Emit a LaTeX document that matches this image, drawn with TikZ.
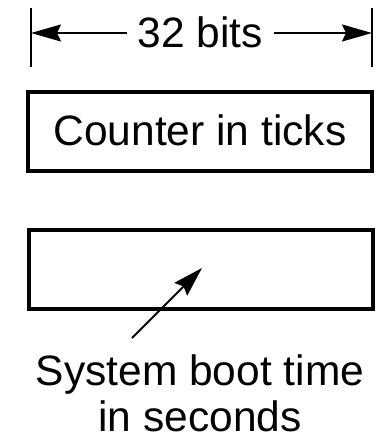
\documentclass[tikz,border=0pt]{standalone}
\usepackage{fontspec}
\setmainfont{Liberation Sans}
\usetikzlibrary{arrows.meta}
\begin{document}
\begin{tikzpicture}[x=1pt,y=-1pt,
  every node/.style={font=\fontsize{42.5}{46}\selectfont, inner sep=0pt},
  field/.style={draw, line width=4pt, minimum width=344pt, minimum height=79pt},
  bar/.style={line width=1.8pt},
  dimarrow/.style={line width=1.8pt, -{Stealth[length=30pt,width=17pt,inset=4pt]}},
  pointer/.style={line width=1.8pt, -{Stealth[length=30pt,width=18pt,inset=4pt]}}]
  \useasboundingbox (0,0) rectangle (380,437);

  % word width dimension
  \coordinate (ltop) at (31,8);  \coordinate (lbot) at (31,67);
  \coordinate (rtop) at (372,8); \coordinate (rbot) at (372,67);
  \draw[bar] (ltop) -- (lbot);
  \draw[bar] (rtop) -- (rbot);
  \node[anchor=base, inner xsep=11pt] (bits) at (200.5,47) {32 bits};
  \coordinate (lend) at (31,33);
  \coordinate (rend) at (372,33);
  \draw[dimarrow] (bits.west |- lend) -- (lend);
  \draw[dimarrow] (bits.east |- rend) -- (rend);

  % the two fields
  \node[field] (ticks) at (200,131.5) {};
  \node[anchor=base] (ticklabel) at (200,145) {Counter in ticks};
  \node[field] (boot) at (201,269.5) {};

  % label with pointer into the second field
  \node[anchor=base, align=center] (bootlabel) at (200,431) {System boot time\\in seconds};
  \coordinate (tail) at (132,338);
  \coordinate (tip) at (202,268);
  \draw[pointer] (tail) -- (tip);
\end{tikzpicture}
\end{document}
